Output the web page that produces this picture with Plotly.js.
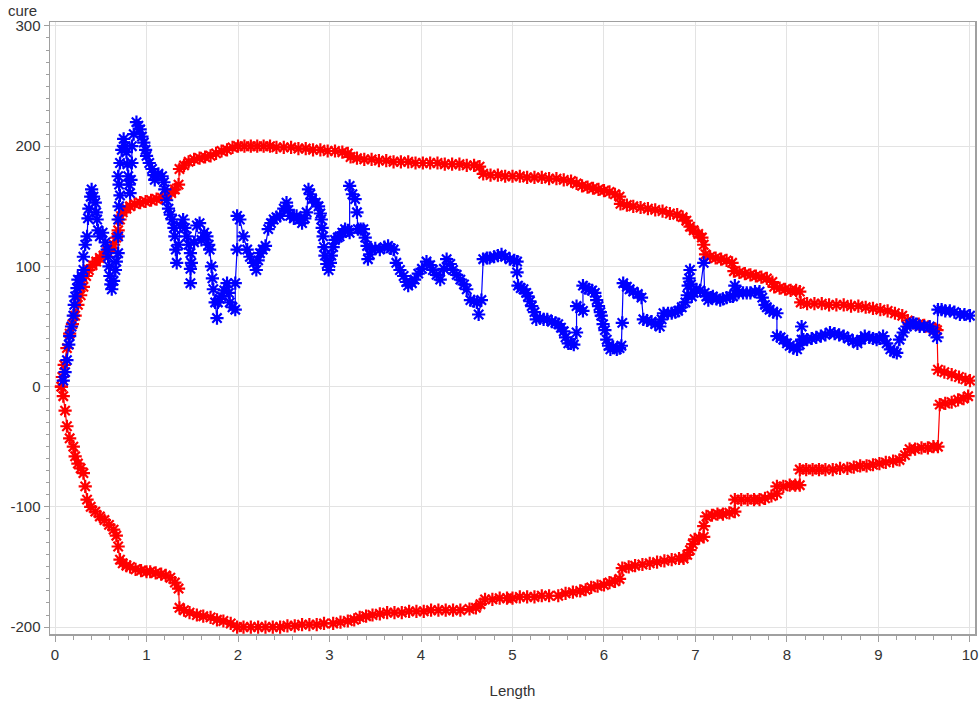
<!DOCTYPE html>
<html>
<head>
<meta charset="utf-8">
<script src="https://cdn.plot.ly/plotly-3.0.1.min.js"></script>
<style>html,body{margin:0;padding:0;background:#fff;}#chart{width:980px;height:702px;}</style>
</head>
<body>
<div id="chart"></div>
<script>
// Blue series (cure vs Length)
const blueX = [0.09,0.11,0.13,0.15,0.16,0.18,0.20,0.21,0.22,0.24,0.25,0.27,0.29,0.31,0.31,0.33,0.35,0.36,0.37,0.39,0.40,0.42,0.44,0.45,0.46,0.47,0.49,0.52,0.55,0.57,0.58,0.59,0.60,0.61,0.62,0.64,0.66,0.67,0.69,0.69,0.69,0.70,0.71,0.70,0.69,0.71,0.73,0.75,0.77,0.78,0.79,0.80,0.81,0.82,0.83,0.84,0.84,0.86,0.89,0.91,0.93,0.95,0.97,0.99,1.00,1.03,1.06,1.08,1.09,1.13,1.17,1.19,1.20,1.22,1.24,1.26,1.28,1.30,1.31,1.32,1.33,1.35,1.37,1.40,1.42,1.44,1.46,1.48,1.48,1.48,1.49,1.52,1.55,1.58,1.60,1.63,1.66,1.68,1.69,1.71,1.72,1.73,1.75,1.77,1.78,1.80,1.82,1.85,1.88,1.90,1.91,1.94,1.97,1.97,1.99,1.99,2.02,2.06,2.10,2.13,2.17,2.20,2.22,2.24,2.27,2.30,2.33,2.36,2.39,2.42,2.46,2.50,2.53,2.55,2.57,2.61,2.64,2.67,2.70,2.73,2.75,2.77,2.79,2.81,2.85,2.88,2.90,2.91,2.92,2.93,2.94,2.95,2.97,2.99,3.01,3.02,3.04,3.06,3.09,3.11,3.14,3.17,3.20,3.22,3.22,3.25,3.28,3.30,3.31,3.34,3.37,3.39,3.41,3.42,3.44,3.46,3.50,3.55,3.60,3.64,3.67,3.70,3.73,3.77,3.81,3.84,3.86,3.90,3.93,3.97,4.01,4.06,4.10,4.13,4.17,4.21,4.25,4.28,4.32,4.35,4.39,4.43,4.47,4.50,4.54,4.58,4.61,4.63,4.66,4.68,4.72,4.75,4.80,4.84,4.88,4.92,4.97,5.02,5.05,5.05,5.06,5.09,5.12,5.15,5.17,5.19,5.21,5.24,5.26,5.30,5.34,5.38,5.43,5.47,5.50,5.53,5.56,5.58,5.61,5.64,5.67,5.70,5.70,5.74,5.77,5.77,5.80,5.83,5.87,5.90,5.92,5.94,5.96,5.97,5.99,6.01,6.03,6.05,6.07,6.10,6.14,6.17,6.19,6.20,6.21,6.25,6.28,6.32,6.37,6.41,6.43,6.47,6.52,6.56,6.61,6.63,6.65,6.70,6.74,6.78,6.81,6.85,6.89,6.91,6.92,6.93,6.94,6.95,6.96,6.98,7.01,7.05,7.09,7.10,7.12,7.14,7.17,7.19,7.23,7.27,7.30,7.34,7.38,7.41,7.43,7.45,7.47,7.52,7.56,7.60,7.65,7.70,7.73,7.76,7.78,7.81,7.85,7.89,7.89,7.93,7.96,8.00,8.03,8.07,8.11,8.14,8.16,8.16,8.18,8.22,8.27,8.32,8.37,8.42,8.47,8.52,8.57,8.62,8.67,8.72,8.77,8.81,8.85,8.90,8.94,8.98,9.01,9.05,9.09,9.13,9.17,9.20,9.23,9.27,9.31,9.35,9.38,9.41,9.45,9.50,9.56,9.60,9.64,9.65,9.69,9.73,9.78,9.83,9.89,9.94,10.0];
const blueY = [5,12,22,35,42,50,59,68,75,82,89,85,92,97,108,118,125,140,148,158,164,158,153,145,139,130,125,128,120,114,108,100,92,85,81,88,97,104,111,125,139,150,159,168,175,186,197,206,200,195,185,175,168,161,172,186,200,210,220,217,214,208,203,197,192,186,181,176,172,177,175,170,164,155,148,143,139,132,125,114,103,118,134,139,132,125,118,111,98,86,103,120,134,136,122,128,125,118,114,100,90,81,70,57,70,73,75,80,86,78,70,66,64,86,114,142,139,125,114,108,103,97,105,111,114,117,131,136,139,141,142,148,153,147,142,140,142,139,136,140,145,164,160,156,153,150,144,139,132,125,116,109,102,97,103,109,116,122,124,125,128,131,130,128,167,160,156,145,131,131,131,124,117,106,110,114,115,114,116,117,115,114,103,97,92,87,84,86,89,94,98,104,101,97,93,89,98,106,102,97,93,89,85,81,72,71,70,60,72,106,107,107,108,109,110,108,106,105,104,95,84,82,81,78,75,71,67,62,56,57,56,56,54,53,52,49,46,41,36,36,35,45,67,65,63,84,82,81,80,78,72,67,62,59,52,47,39,34,31,33,31,32,34,53,86,83,81,79,77,74,56,55,54,52,50,56,61,61,61,62,63,66,70,76,84,90,97,85,75,78,81,80,103,78,75,72,74,75,73,72,73,74,75,75,84,80,78,78,78,78,79,79,74,68,66,64,62,61,42,41,39,36,34,32,31,35,39,50,39,39,40,41,42,43,45,44,43,42,40,38,36,39,42,41,40,39,40,42,36,31,29,28,39,45,50,52,53,52,50,50,50,46,41,64,64,63,63,62,60,60,59];

// Red upper boundary
const redUpX = [0.07,0.08,0.10,0.13,0.16,0.19,0.22,0.25,0.28,0.31,0.34,0.37,0.41,0.45,0.49,0.53,0.57,0.61,0.64,0.67,0.69,0.71,0.74,0.78,0.82,0.87,0.93,0.99,1.05,1.11,1.17,1.22,1.27,1.31,1.35,1.36,1.41,1.46,1.52,1.58,1.64,1.70,1.76,1.82,1.88,1.94,2.00,2.07,2.14,2.21,2.28,2.35,2.42,2.50,2.58,2.66,2.74,2.82,2.90,2.98,3.06,3.14,3.20,3.23,3.30,3.38,3.46,3.54,3.62,3.70,3.78,3.86,3.94,4.02,4.10,4.18,4.26,4.34,4.42,4.50,4.58,4.64,4.68,4.76,4.84,4.92,5.00,5.08,5.16,5.24,5.32,5.40,5.48,5.56,5.64,5.70,5.76,5.82,5.88,5.94,6.00,6.06,6.12,6.17,6.18,6.25,6.32,6.40,6.48,6.56,6.64,6.72,6.80,6.86,6.90,6.94,6.98,7.03,7.07,7.09,7.11,7.16,7.22,7.28,7.34,7.40,7.42,7.48,7.54,7.60,7.66,7.72,7.78,7.84,7.86,7.92,7.98,8.04,8.10,8.14,8.15,8.22,8.30,8.38,8.46,8.54,8.62,8.70,8.78,8.86,8.94,9.02,9.10,9.18,9.26,9.32,9.38,9.44,9.50,9.56,9.62,9.64,9.65,9.72,9.80,9.88,9.95,10.0];
const redUpY = [0,8,18,32,44,52,59,68,76,83,92,97,101,104,107,109,112,115,118,124,130,139,145,148,150,152,153,154,155,156,157,159,161,164,168,181,184,187,189,190,191,192,194,196,197,199,200,200,200,200,200,200,199,199,199,198,198,197,197,196,196,195,194,191,190,189,189,188,188,187,187,187,186,186,186,186,185,185,185,184,184,183,177,176,176,175,175,175,174,174,174,173,173,172,171,169,167,166,165,164,163,162,160,158,152,151,150,149,148,147,146,144,143,141,138,133,130,127,124,118,110,108,107,106,105,103,96,95,94,93,92,91,90,87,83,82,81,80,80,79,70,69,69,69,68,68,68,67,67,66,65,64,63,61,59,55,53,52,51,49,48,47,14,12,10,8,6,5];

// Red lower boundary
const redLoX = [0.07,0.09,0.11,0.13,0.16,0.20,0.22,0.25,0.28,0.31,0.33,0.35,0.39,0.44,0.49,0.54,0.59,0.64,0.67,0.69,0.71,0.74,0.78,0.82,0.88,0.94,1.00,1.04,1.10,1.16,1.21,1.26,1.31,1.35,1.36,1.41,1.47,1.55,1.62,1.70,1.77,1.84,1.92,1.99,2.06,2.14,2.22,2.30,2.38,2.46,2.54,2.62,2.70,2.78,2.86,2.94,3.04,3.12,3.20,3.27,3.33,3.40,3.47,3.55,3.63,3.71,3.79,3.87,3.95,4.03,4.11,4.19,4.27,4.35,4.43,4.53,4.60,4.65,4.70,4.78,4.86,4.94,5.00,5.08,5.16,5.24,5.32,5.40,5.50,5.58,5.66,5.74,5.80,5.86,5.93,6.00,6.06,6.12,6.17,6.20,6.27,6.34,6.42,6.50,6.58,6.66,6.74,6.82,6.87,6.91,6.94,6.97,6.99,7.04,7.09,7.09,7.12,7.18,7.24,7.30,7.37,7.43,7.43,7.50,7.57,7.64,7.70,7.76,7.83,7.89,7.89,7.96,8.03,8.09,8.14,8.14,8.21,8.28,8.35,8.42,8.50,8.58,8.66,8.73,8.80,8.87,8.94,9.01,9.08,9.16,9.23,9.29,9.34,9.40,9.47,9.54,9.60,9.65,9.67,9.73,9.80,9.87,9.93,9.98];
const redLoY = [0,-8,-20,-33,-43,-50,-58,-64,-68,-72,-83,-94,-100,-104,-108,-111,-115,-119,-124,-133,-144,-147,-149,-150,-152,-153,-154,-154,-155,-156,-157,-159,-163,-168,-184,-186,-188,-190,-191,-192,-194,-195,-197,-200,-200,-200,-200,-200,-200,-200,-199,-199,-198,-198,-198,-197,-197,-196,-195,-194,-192,-191,-190,-189,-188,-188,-188,-187,-187,-187,-186,-186,-186,-186,-186,-185,-184,-181,-177,-177,-176,-176,-176,-175,-175,-175,-174,-174,-174,-172,-171,-170,-169,-167,-166,-165,-163,-162,-160,-151,-150,-149,-148,-147,-146,-145,-144,-143,-143,-140,-136,-131,-127,-126,-125,-116,-108,-107,-106,-106,-105,-104,-94,-94,-94,-94,-94,-93,-91,-89,-83,-83,-82,-82,-82,-69,-69,-69,-69,-69,-69,-68,-68,-67,-66,-66,-65,-64,-63,-62,-61,-57,-52,-52,-51,-51,-50,-50,-15,-14,-13,-11,-10,-8];

const xTickVals = [0,1,2,3,4,5,6,7,8,9,10];
const yTickVals = [-200,-100,0,100,200,300];

const markerStyle = (c) => ({symbol:'asterisk-open', size:11, color:c, line:{color:c, width:2.2}});

const traces = [
  {x: redUpX, y: redUpY, type:'scatter', mode:'lines+markers', line:{color:'#ff0000', width:1.2}, marker: markerStyle('#ff0000'), showlegend:false, hoverinfo:'skip'},
  {x: redLoX, y: redLoY, type:'scatter', mode:'lines+markers', line:{color:'#ff0000', width:1.2}, marker: markerStyle('#ff0000'), showlegend:false, hoverinfo:'skip'},
  {x: blueX, y: blueY, type:'scatter', mode:'lines+markers', line:{color:'#0000ff', width:1.2}, marker: markerStyle('#0000ff'), showlegend:false, hoverinfo:'skip'}
];

const axFont = {family:'Liberation Sans, Arial, sans-serif', size:15, color:'#333'};
const layout = {
  width:980, height:702,
  margin:{l:50, r:5, t:22, b:68},
  paper_bgcolor:'#fff', plot_bgcolor:'#fff',
  font: axFont,
  xaxis:{
    range:[-0.055, 10.055], tickvals:xTickVals, ticktext:xTickVals.map(String),
    showgrid:true, gridcolor:'#e3e3e3', gridwidth:1, zeroline:false,
    showline:true, linecolor:'#a0a0a0', linewidth:1.5, mirror:true,
    ticks:'outside', ticklen:6, tickcolor:'#a0a0a0',
    minor:{dtick:0.2, ticks:'outside', ticklen:4, tickcolor:'#a0a0a0', showgrid:false},
    tickfont: axFont,
    title:{text:'Length', font:axFont, standoff:24}
  },
  yaxis:{
    range:[-205.8, 303.3], tickvals:yTickVals, ticktext:yTickVals.map(String),
    showgrid:true, gridcolor:'#e3e3e3', gridwidth:1, zeroline:false,
    showline:true, linecolor:'#a0a0a0', linewidth:1.5, mirror:true,
    ticks:'outside', ticklen:5, tickcolor:'#a0a0a0',
    minor:{dtick:10, ticks:'outside', ticklen:3, tickcolor:'#a0a0a0', showgrid:false},
    tickfont: axFont
  },
  annotations:[
    {text:'cure', xref:'paper', yref:'paper', x:0, y:1, xanchor:'right', yanchor:'bottom', xshift:-11, yshift:1, showarrow:false, font:axFont}
  ]
};

Plotly.newPlot('chart', traces, layout, {displayModeBar:false, staticPlot:true});
</script>
</body>
</html>
